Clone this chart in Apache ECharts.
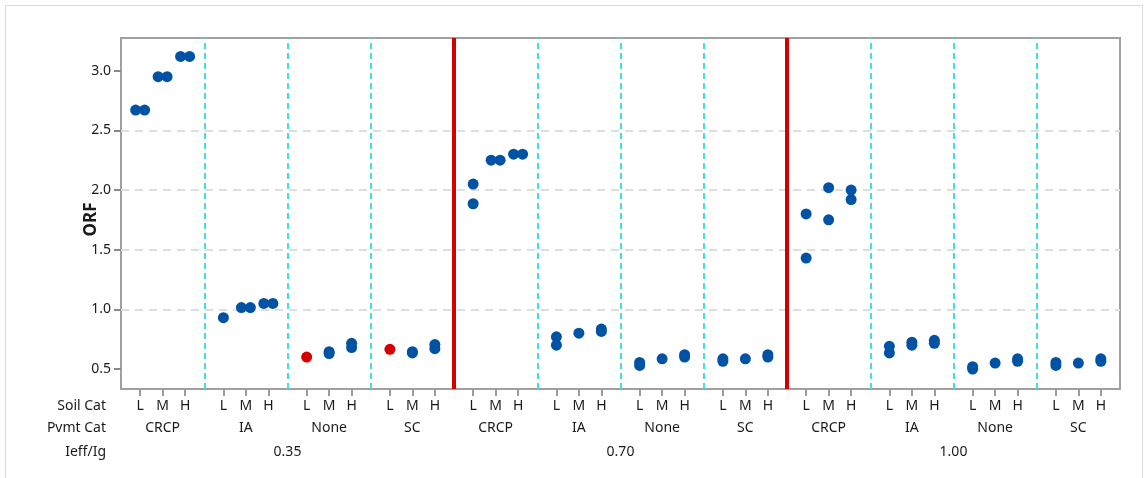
<!DOCTYPE html>
<html><head><meta charset="utf-8">
<script src="https://cdn.jsdelivr.net/npm/echarts@6/dist/echarts.min.js"></script>
<style>html,body{margin:0;padding:0;background:#fff}#c{width:1148px;height:478px}</style>
</head><body><div id="c"></div>
<script>
// ---- categories / tick labels ----
const ieffLevels = ['0.35', '0.70', '1.00'];
const pvmtCats = ['CRCP', 'IA', 'None', 'SC'];
const soilCats = ['L', 'M', 'H'];
const yTicks = [0.5, 1.0, 1.5, 2.0, 2.5, 3.0];
const yMin = 0.3325, yMax = 3.274;

// ---- ORF observations per cell: [L, M, H] ----
const orf035CRCP = [[2.67, 2.67], [2.95, 2.95], [3.12, 3.12]];
const orf035IA   = [[0.93], [1.015, 1.015], [1.05, 1.05]];
const orf035None = [[0.60], [0.645, 0.63], [0.715, 0.68]];
const orf035SC   = [[0.665], [0.645, 0.635], [0.705, 0.67]];
const orf070CRCP = [[2.05, 1.885], [2.25, 2.25], [2.30, 2.30]];
const orf070IA   = [[0.77, 0.70], [0.80], [0.835, 0.815]];
const orf070None = [[0.555, 0.53], [0.585], [0.62, 0.60]];
const orf070SC   = [[0.585, 0.565], [0.585], [0.62, 0.60]];
const orf100CRCP = [[1.80, 1.43], [2.02, 1.75], [2.00, 1.92]];
const orf100IA   = [[0.69, 0.635], [0.725, 0.70], [0.74, 0.715]];
const orf100None = [[0.52, 0.50], [0.55], [0.585, 0.565]];
const orf100SC   = [[0.555, 0.53], [0.55], [0.585, 0.565]];
// cells drawn in red
const highlighted = [['0.35', 'None', 'L'], ['0.35', 'SC', 'L']];

const cells = [orf035CRCP, orf035IA, orf035None, orf035SC,
               orf070CRCP, orf070IA, orf070None, orf070SC,
               orf100CRCP, orf100IA, orf100None, orf100SC];

// layout of the nested x scale (groups of width 1)
const soilPos = [0.23, 0.5, 0.77];
const jitter = 0.054;
const nGroups = ieffLevels.length * pvmtCats.length;

const blue = [], red = [];
cells.forEach((cell, g) => {
  const ieff = ieffLevels[Math.floor(g / pvmtCats.length)];
  const pvmt = pvmtCats[g % pvmtCats.length];
  cell.forEach((vals, s) => {
    const isRed = highlighted.some(h => h[0] === ieff && h[1] === pvmt && h[2] === soilCats[s]);
    vals.forEach((v, k) => {
      const same = vals.filter(u => Math.abs(u - v) < 0.005).length;
      let x = g + soilPos[s];
      if (same > 1) {
        const idx = vals.slice(0, k).filter(u => Math.abs(u - v) < 0.005).length;
        x += idx === 0 ? -jitter : jitter;
      }
      (isRed ? red : blue).push([x, v]);
    });
  });
});

const soilTickVals = [], pvmtTickVals = [], ieffTickVals = [];
for (let g = 0; g < nGroups; g++) {
  soilPos.forEach(p => soilTickVals.push(g + p));
  pvmtTickVals.push(g + 0.5);
}
ieffLevels.forEach((_, i) => ieffTickVals.push(i * pvmtCats.length + pvmtCats.length / 2));
const cyanDiv = [], redDiv = [];
for (let g = 1; g < nGroups; g++) {
  if (g % pvmtCats.length === 0) redDiv.push({xAxis: g}); else cyanDiv.push({xAxis: g});
}

const FONT = 'Noto Sans';
const TXT = '#1a1a1a';
const baseX = {
  type: 'value', min: 0, max: nGroups, position: 'bottom', gridIndex: 0,
  axisLine: {show: false}, splitLine: {show: false}
};
const nameStyle = {color: TXT, fontFamily: FONT, fontSize: 14};

const chart = echarts.init(document.getElementById('c'), null, {renderer: 'canvas'});
chart.setOption({
  animation: false,
  backgroundColor: '#fff',
  graphic: [{type: 'rect', shape: {x: 5.5, y: 5.5, width: 1137, height: 500},
    style: {fill: 'none', stroke: '#d9d9d9', lineWidth: 1}, silent: true, z: -10}],
  grid: {left: 121, right: 28, top: 38, bottom: 89, show: true, borderColor: '#a0a0a0', borderWidth: 2, backgroundColor: 'transparent'},
  xAxis: [
    Object.assign({}, baseX, {axisTick: {show: false}, axisLabel: {show: false}}),
    Object.assign({}, baseX, {
      axisTick: {show: true, length: 7, customValues: soilTickVals, lineStyle: {color: '#9a9a9a', width: 2}},
      axisLabel: {show: false}
    }),
    Object.assign({}, baseX, {
      offset: 17, axisTick: {show: false},
      axisLabel: {show: true, customValues: soilTickVals, margin: 0, verticalAlign: 'middle',
        color: TXT, fontFamily: FONT, fontSize: 14,
        formatter: v => soilCats[Math.round((v - Math.floor(v) - soilPos[0]) / (soilPos[1] - soilPos[0]))]},
      name: 'Soil Cat', nameLocation: 'start', nameGap: 15, nameTextStyle: nameStyle
    }),
    Object.assign({}, baseX, {
      offset: 39, axisTick: {show: false},
      axisLabel: {show: true, customValues: pvmtTickVals, margin: 0, verticalAlign: 'middle',
        color: TXT, fontFamily: FONT, fontSize: 14,
        formatter: v => pvmtCats[Math.floor(v) % pvmtCats.length]},
      name: 'Pvmt Cat', nameLocation: 'start', nameGap: 15, nameTextStyle: nameStyle
    }),
    Object.assign({}, baseX, {
      offset: 63, axisTick: {show: false},
      axisLabel: {show: true, customValues: ieffTickVals, margin: 0, verticalAlign: 'middle',
        color: TXT, fontFamily: FONT, fontSize: 14,
        formatter: v => ieffLevels[Math.floor(v / pvmtCats.length)]},
      name: 'Ieff/Ig', nameLocation: 'start', nameGap: 15, nameTextStyle: nameStyle
    })
  ],
  yAxis: {
    type: 'value', min: yMin, max: yMax,
    axisLine: {show: false},
    axisTick: {show: true, length: 7, customValues: yTicks, lineStyle: {color: '#8a8a8a', width: 2}},
    axisLabel: {customValues: yTicks, margin: 10, color: TXT, fontFamily: FONT, fontSize: 14,
      formatter: v => v.toFixed(1)},
    splitLine: {show: true, showMinLine: false, showMaxLine: false,
      lineStyle: {color: '#dedede', width: 2, type: [8, 6]}},
    name: 'ORF', nameLocation: 'middle', nameGap: 21, nameMoveOverlap: false,
    nameTextStyle: {color: TXT, fontFamily: FONT, fontSize: 17, fontWeight: 'bold', padding: [0, 12, 0, 0]}
  },
  series: [
    {type: 'scatter', data: [], xAxisIndex: 0, yAxisIndex: 0, silent: true, z: 2,
      markLine: {symbol: 'none', silent: true, label: {show: false},
        lineStyle: {color: '#40e0e0', width: 2, type: [6, 4]}, data: cyanDiv}},
    {type: 'scatter', data: [], xAxisIndex: 0, yAxisIndex: 0, silent: true, z: 3,
      markLine: {symbol: 'none', silent: true, label: {show: false},
        lineStyle: {color: '#d40000', width: 4, type: 'solid'}, data: redDiv}},
    {type: 'scatter', name: 'ORF', data: blue, xAxisIndex: 0, yAxisIndex: 0, z: 5,
      symbol: 'circle', symbolSize: 11, itemStyle: {color: '#0053a4', opacity: 1}},
    {type: 'scatter', name: 'ORF flagged', data: red, xAxisIndex: 0, yAxisIndex: 0, z: 5,
      symbol: 'circle', symbolSize: 11, itemStyle: {color: '#d40000', opacity: 1}}
  ]
});
</script></body></html>
